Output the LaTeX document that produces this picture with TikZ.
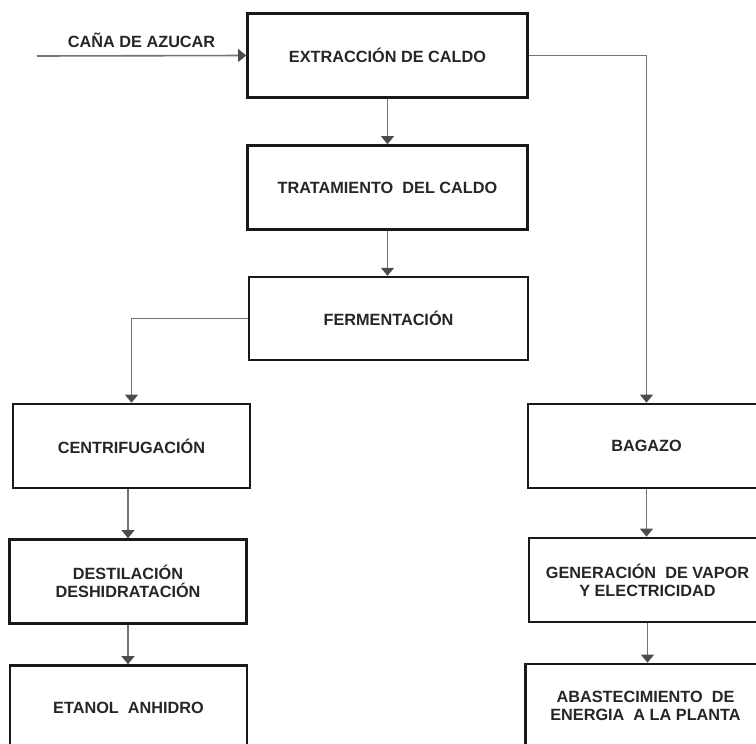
\documentclass[tikz,border=0pt]{standalone}
\usepackage{fontspec}
\setmainfont{Liberation Sans}
\usetikzlibrary{arrows.meta}

\begin{document}
\begin{tikzpicture}[x=0.75pt, y=-0.75pt,
        caja/.style={draw=black!90, line width=1.9pt, fill=white, align=center,
            text=black!85, font=\fontsize{12.2}{13.5}\selectfont\bfseries,
            minimum width=178pt, minimum height=63pt, inner sep=0pt},
        ancha/.style={caja, minimum width=210pt},
        flujo/.style={draw=black!55, line width=1.2pt,
            -{Triangle[width=9.5pt, length=6pt, color=black!70]}}]
        \useasboundingbox (0,0) rectangle (756,743);
        \clip (0,0) rectangle (756,743);

        \node [ancha] (extraccion) at (387.5,55.5) {EXTRACCIÓN DE CALDO};
        \node [ancha] (tratamiento) at (387.5,187.5) {TRATAMIENTO\ \ DEL CALDO};
        \node [ancha, minimum width=209pt, minimum height=62pt] (fermentacion) at (388.5,318.5) {FERMENTACIÓN};
        \node [caja] (centrifugacion) at (131.5,446) {CENTRIFUGACIÓN};
        \node [caja] (destilacion) at (128,581.5) {DESTILACIÓN\\DESHIDRATACIÓN};
        \node [caja] (etanol) at (128.5,707.5) {ETANOL\ \ ANHIDRO};
        \node [caja] (bagazo) at (646.5,446) {BAGAZO};
        \node [caja] (generacion) at (647.5,580) {GENERACIÓN\ \ DE VAPOR\\Y ELECTRICIDAD};
        \node [caja, minimum width=180pt] (abastecimiento) at (645.5,706) {ABASTECIMIENTO\ \ DE\\ENERGIA\ \ A LA PLANTA};

        \coordinate (entrada) at (37,56);
        \draw [flujo] (entrada) -- node [above=2pt, text=black!85,
            font=\fontsize{12.2}{13.5}\selectfont\bfseries] {CAÑA DE AZUCAR} (extraccion.west);
        \draw [flujo] (extraccion.south) -- (extraccion.south |- tratamiento.north);
        \draw [flujo] (tratamiento.south) -- (tratamiento.south |- fermentacion.north);
        \draw [flujo] (extraccion.east) -| (bagazo.north);
        \draw [flujo] (fermentacion.west) -| (centrifugacion.north);
        \draw [flujo] (centrifugacion.south -| destilacion.north) -- (destilacion.north);
        \draw [flujo] (destilacion.south) -- (destilacion.south |- etanol.north);
        \draw [flujo] (bagazo.south) -- (bagazo.south |- generacion.north);
        \draw [flujo] (generacion.south) -- (generacion.south |- abastecimiento.north);
    \end{tikzpicture}
\end{document}
